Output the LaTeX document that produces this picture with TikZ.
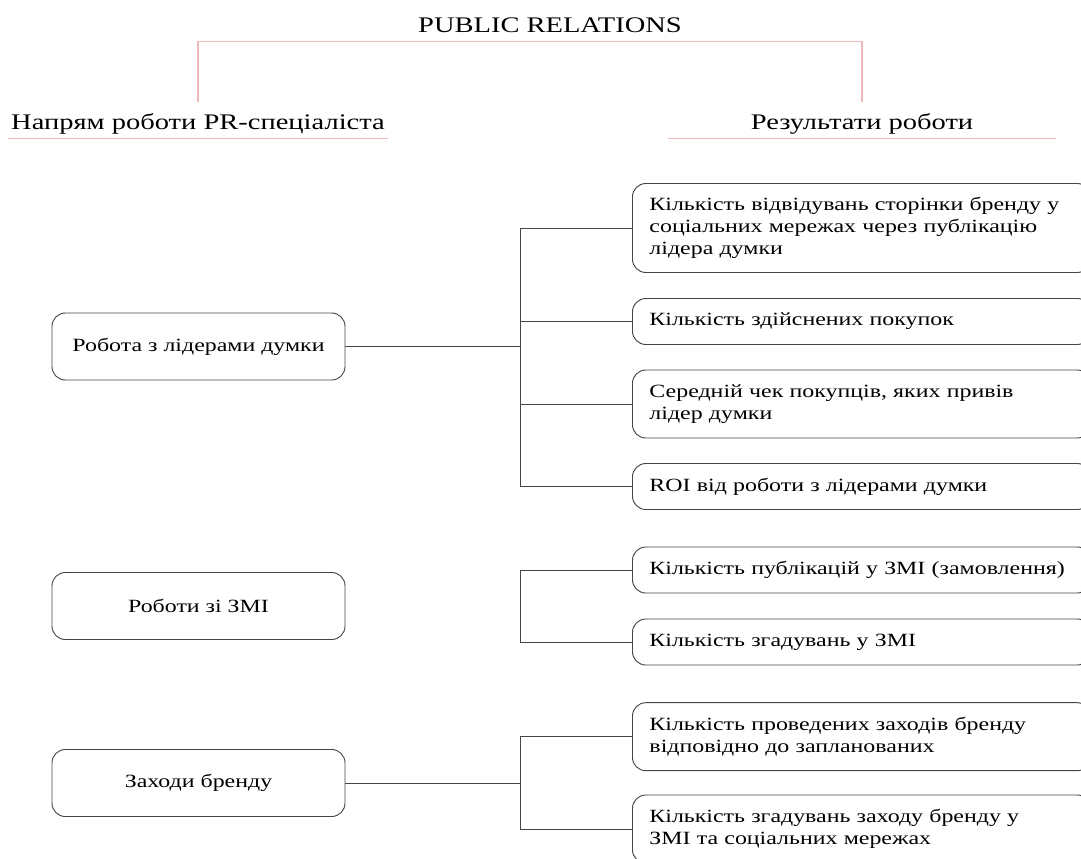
\documentclass[tikz,border=0pt]{standalone}
\usepackage{fontspec}
\setmainfont{Liberation Serif}[FakeStretch=1.28]
\usetikzlibrary{calc}

\definecolor{bracketpink}{RGB}{240,185,185}
\definecolor{boxgray}{RGB}{70,70,70}

\begin{document}
\begin{tikzpicture}
	[x=0.75pt, y=-0.75pt,
	font=\fontsize{14}{16.3}\selectfont,
	head/.style={font=\fontsize{16.7}{19}\selectfont, inner xsep=2pt, inner ysep=3pt,
		text height=12pt, text depth=3.5pt},
	pinkline/.style={bracketpink, line width=0.9pt},
	leadbox/.style={draw=boxgray, line width=0.7pt, rounded corners=10pt,
		minimum width=219.75pt, minimum height=50.25pt},
	resbox/.style={draw=boxgray, line width=0.7pt, rounded corners=10pt, anchor=west,
		text width=318pt, align=left, inner xsep=12.75pt, inner ysep=3pt},
	oneline/.style={minimum height=34.5pt},
	twoline/.style={minimum height=51pt},
	threeline/.style={minimum height=66.75pt},
	link/.style={boxgray, line width=0.6pt}]
	
	\useasboundingbox (0,0) rectangle (1081,859);
	\clip (0,0) rectangle (1081,859);
	
	% Draw headings
	\node[head] (title) at (550,26.6) {PUBLIC RELATIONS};
	\node[head] (dir) at (198,123.8) {Напрям роботи PR-спеціаліста};
	\node[head] (res) at (862,123.8) {Результати роботи};
	\draw[pinkline, shorten <=5.6pt, shorten >=5.6pt] (dir.north) |- (title.south) -| (res.north);
	\draw[pinkline] (dir.south west) -- (dir.south east);
	\draw[pinkline] ([xshift=-60pt]res.south west) -- ([xshift=60pt]res.south east);
	
	% Draw left boxes
	\node[leadbox] (lead1) at (198.5,346.5) {Робота з лідерами думки};
	\node[leadbox] (lead2) at (198.5,606) {Роботи зі ЗМІ};
	\node[leadbox] (lead3) at (198.5,783) {Заходи бренду};
	
	% Draw right boxes
	\node[resbox, threeline] (res1) at (632,228) {Кількість відвідувань сторінки бренду у\\ соціальних мережах через публікацію\\ лідера думки};
	\node[resbox, oneline] (res2) at (632,321.5) {Кількість здійснених покупок};
	\node[resbox, twoline] (res3) at (632,404) {Середній чек покупців, яких привів\\ лідер думки};
	\node[resbox, oneline] (res4) at (632,486.5) {ROI від роботи з лідерами думки};
	\node[resbox, oneline] (res5) at (632,570) {Кількість публікацій у ЗМІ (замовлення)};
	\node[resbox, oneline] (res6) at (632,642) {Кількість згадувань у ЗМІ};
	\node[resbox, twoline] (res7) at (632,736.7) {Кількість проведених заходів бренду\\ відповідно до запланованих};
	\node[resbox, twoline] (res8) at (632,829) {Кількість згадувань заходу бренду у\\ ЗМІ та соціальних мережах};
	
	% Draw first fork
	\coordinate (fork1) at (520,346.5);
	\draw[link] (lead1) -- (fork1);
	\draw[link] (fork1 |- res1.west) -- (fork1 |- res4.west);
	\foreach \r in {res1, res2, res3, res4}
		\draw[link] (fork1 |- \r.west) -- (\r.west);
	
	% Draw second fork
	\coordinate (fork2) at (520,606);
	\draw[link] (fork2 |- res5.west) -- (fork2 |- res6.west);
	\foreach \r in {res5, res6}
		\draw[link] (fork2 |- \r.west) -- (\r.west);
	
	% Draw third fork
	\coordinate (fork3) at (520,783);
	\draw[link] (lead3) -- (fork3);
	\draw[link] (fork3 |- res7.west) -- (fork3 |- res8.west);
	\foreach \r in {res7, res8}
		\draw[link] (fork3 |- \r.west) -- (\r.west);
	
\end{tikzpicture}
\end{document}
